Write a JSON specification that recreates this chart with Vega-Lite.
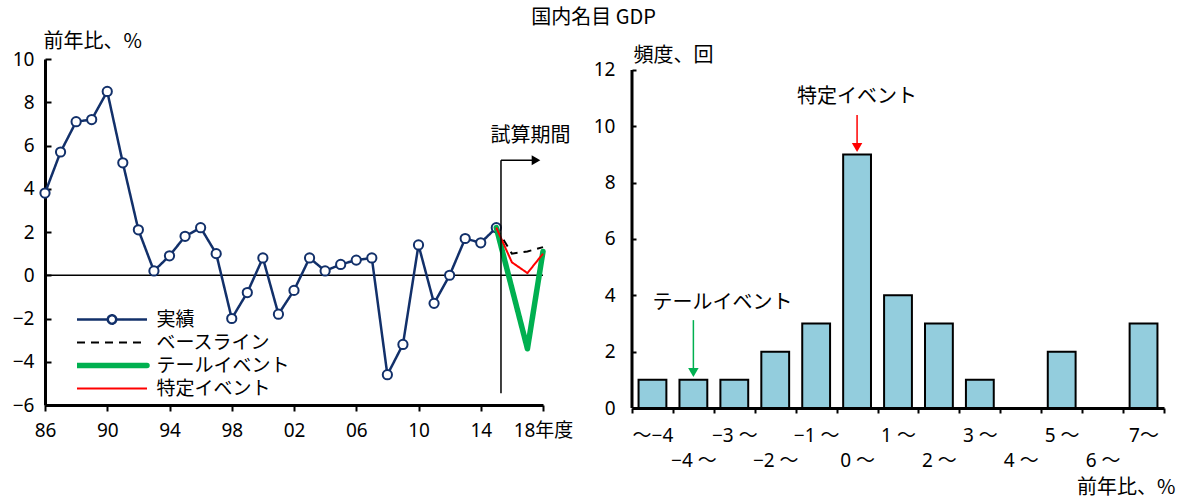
{
  "$schema": "https://vega.github.io/schema/vega-lite/v6.json",
  "background": "white",
  "padding": {"left": 12, "top": 8, "right": 5, "bottom": 2},
  "title": {"text": "国内名目 GDP", "font": "Noto Sans CJK JP", "fontSize": 20, "fontWeight": "normal", "color": "black", "anchor": "middle", "offset": 3},
  "bounds": "flush",
  "spacing": 89,
  "config": {
    "view": {"stroke": null},
    "font": "Noto Sans CJK JP",
    "axis": {
      "grid": false,
      "domainColor": "black",
      "domainWidth": 3,
      "tickColor": "black",
      "tickWidth": 2,
      "labelFont": "Noto Sans, Noto Sans CJK JP",
      "labelFontSize": 19,
      "labelColor": "black",
      "titleFont": "Noto Sans CJK JP",
      "titleFontSize": 20,
      "titleFontWeight": "normal",
      "titleColor": "black"
    },
    "legend": {
      "orient": "none",
      "legendX": 32,
      "legendY": 251,
      "title": null,
      "padding": 0,
      "symbolSize": 100,
      "symbolOffset": 25.5,
      "labelOffset": 35,
      "clipHeight": 19,
      "rowPadding": 3,
      "labelFont": "Noto Sans CJK JP",
      "labelFontSize": 19,
      "labelColor": "black"
    },
    "text": {"font": "Noto Sans CJK JP", "fontSize": 20, "color": "black"}
  },
  "datasets": {
    "gdp": [
      {"series": "実績", "year": 1986, "value": 3.8},
      {"series": "実績", "year": 1987, "value": 5.7},
      {"series": "実績", "year": 1988, "value": 7.1},
      {"series": "実績", "year": 1989, "value": 7.2},
      {"series": "実績", "year": 1990, "value": 8.5},
      {"series": "実績", "year": 1991, "value": 5.2},
      {"series": "実績", "year": 1992, "value": 2.1},
      {"series": "実績", "year": 1993, "value": 0.2},
      {"series": "実績", "year": 1994, "value": 0.9},
      {"series": "実績", "year": 1995, "value": 1.8},
      {"series": "実績", "year": 1996, "value": 2.2},
      {"series": "実績", "year": 1997, "value": 1.0},
      {"series": "実績", "year": 1998, "value": -2.0},
      {"series": "実績", "year": 1999, "value": -0.8},
      {"series": "実績", "year": 2000, "value": 0.8},
      {"series": "実績", "year": 2001, "value": -1.8},
      {"series": "実績", "year": 2002, "value": -0.7},
      {"series": "実績", "year": 2003, "value": 0.8},
      {"series": "実績", "year": 2004, "value": 0.2},
      {"series": "実績", "year": 2005, "value": 0.5},
      {"series": "実績", "year": 2006, "value": 0.7},
      {"series": "実績", "year": 2007, "value": 0.8},
      {"series": "実績", "year": 2008, "value": -4.6},
      {"series": "実績", "year": 2009, "value": -3.2},
      {"series": "実績", "year": 2010, "value": 1.4},
      {"series": "実績", "year": 2011, "value": -1.3},
      {"series": "実績", "year": 2012, "value": 0.0},
      {"series": "実績", "year": 2013, "value": 1.7},
      {"series": "実績", "year": 2014, "value": 1.5},
      {"series": "実績", "year": 2015, "value": 2.2},
      {"series": "ベースライン", "year": 2015, "value": 2.2},
      {"series": "ベースライン", "year": 2016, "value": 1.0},
      {"series": "ベースライン", "year": 2017, "value": 1.1},
      {"series": "ベースライン", "year": 2018, "value": 1.3},
      {"series": "テールイベント", "year": 2015, "value": 2.2},
      {"series": "テールイベント", "year": 2016, "value": -0.6},
      {"series": "テールイベント", "year": 2017, "value": -3.4},
      {"series": "テールイベント", "year": 2018, "value": 1.1},
      {"series": "特定イベント", "year": 2015, "value": 2.2},
      {"series": "特定イベント", "year": 2016, "value": 0.6},
      {"series": "特定イベント", "year": 2017, "value": 0.1},
      {"series": "特定イベント", "year": 2018, "value": 1.0}
    ],
    "hist": [
      {"bin": "～−4", "count": 1},
      {"bin": "−4 ～", "count": 1},
      {"bin": "−3 ～", "count": 1},
      {"bin": "−2 ～", "count": 2},
      {"bin": "−1 ～", "count": 3},
      {"bin": "0 ～", "count": 9},
      {"bin": "1 ～", "count": 4},
      {"bin": "2 ～", "count": 3},
      {"bin": "3 ～", "count": 1},
      {"bin": "4 ～", "count": 0},
      {"bin": "5 ～", "count": 2},
      {"bin": "6 ～", "count": 0},
      {"bin": "7～", "count": 3}
    ]
  },
  "hconcat": [
    {
      "width": 498,
      "height": 346,
      "layer": [
        {
          "data": {"values": [{}]},
          "mark": {"type": "rule", "color": "black", "strokeWidth": 1.5},
          "encoding": {"y": {"datum": 0, "type": "quantitative"}}
        },
        {
          "data": {"name": "gdp"},
          "transform": [{"filter": "datum.series === '実績'"}],
          "mark": {"type": "line", "strokeWidth": 2.5, "strokeJoin": "round"},
          "encoding": {
            "x": {
              "field": "year", "type": "quantitative",
              "scale": {"domain": [1986, 2018], "nice": false, "zero": false},
              "axis": {
                "title": null,
                "values": [1986, 1990, 1994, 1998, 2002, 2006, 2010, 2014, 2018],
                "labelExpr": "datum.value === 2018 ? '18年度' : substring(toString(datum.value), 2)",
                "tickSize": 6,
                "labelPadding": 10,
                "labelFlush": false,
                "labelOverlap": false,
                "encode": {
                  "labels": {
                    "update": {
                      "align": {"signal": "datum.value === 2018 ? 'left' : 'center'"},
                      "dx": {"signal": "datum.value === 2018 ? -11 : 0"}
                    }
                  }
                }
              }
            },
            "y": {
              "field": "value", "type": "quantitative",
              "scale": {"domain": [-6, 10], "nice": false},
              "axis": {
                "title": "前年比、%",
                "titleAngle": 0,
                "titleAlign": "left",
                "titleBaseline": "bottom",
                "titleX": -2,
                "titleY": -8,
                "values": [-6, -4, -2, 0, 2, 4, 6, 8, 10],
                "tickSize": -6,
                "labelPadding": 17
              }
            },
            "color": {
              "field": "series", "type": "nominal",
              "scale": {"domain": ["実績", "ベースライン", "テールイベント", "特定イベント"], "range": ["#12306A", "#000000", "#00B050", "#FF0000"]},
              "legend": {
                "encode": {"symbols": {"update": {
                  "shape": {"signal": "datum.value === '実績' ? 'M-7,0H-0.84M0.84,0H7M-0.84,0A0.84,0.84,0,1,1,0.84,0A0.84,0.84,0,1,1,-0.84,0' : 'M-7,0H7'"},
                  "fill": {"value": "white"},
                  "strokeWidth": {"signal": "datum.value === 'テールイベント' ? 5.5 : datum.value === '実績' ? 2.5 : 2"},
                  "strokeCap": {"signal": "datum.value === 'テールイベント' ? 'round' : 'butt'"}
                }}}
              }
            },
            "strokeDash": {
              "field": "series", "type": "nominal",
              "scale": {"domain": ["実績", "ベースライン", "テールイベント", "特定イベント"], "range": [[1, 0], [8, 6], [1, 0], [1, 0]]},
              "legend": {
                "encode": {"symbols": {"update": {
                  "shape": {"signal": "datum.value === '実績' ? 'M-7,0H-0.84M0.84,0H7M-0.84,0A0.84,0.84,0,1,1,0.84,0A0.84,0.84,0,1,1,-0.84,0' : 'M-7,0H7'"},
                  "fill": {"value": "white"},
                  "strokeWidth": {"signal": "datum.value === 'テールイベント' ? 5.5 : datum.value === '実績' ? 2.5 : 2"},
                  "strokeCap": {"signal": "datum.value === 'テールイベント' ? 'round' : 'butt'"}
                }}}
              }
            }
          }
        },
        {
          "data": {"name": "gdp"},
          "transform": [{"filter": "datum.series === '実績'"}],
          "mark": {"type": "point", "shape": "circle", "filled": true, "fill": "white", "stroke": "#12306A", "strokeWidth": 2, "size": 85, "opacity": 1},
          "encoding": {
            "x": {"field": "year", "type": "quantitative"},
            "y": {"field": "value", "type": "quantitative"}
          }
        },
        {
          "data": {"name": "gdp"},
          "transform": [{"filter": "datum.series === 'ベースライン'"}],
          "mark": {"type": "line", "strokeWidth": 2},
          "encoding": {
            "x": {"field": "year", "type": "quantitative"},
            "y": {"field": "value", "type": "quantitative"},
            "color": {"field": "series", "type": "nominal"},
            "strokeDash": {"field": "series", "type": "nominal"}
          }
        },
        {
          "data": {"name": "gdp"},
          "transform": [{"filter": "datum.series === 'テールイベント'"}],
          "mark": {"type": "line", "strokeWidth": 5.5, "strokeJoin": "round", "strokeCap": "round"},
          "encoding": {
            "x": {"field": "year", "type": "quantitative"},
            "y": {"field": "value", "type": "quantitative"},
            "color": {"field": "series", "type": "nominal"},
            "strokeDash": {"field": "series", "type": "nominal"}
          }
        },
        {
          "data": {"name": "gdp"},
          "transform": [{"filter": "datum.series === '特定イベント'"}],
          "mark": {"type": "line", "strokeWidth": 2, "strokeJoin": "round"},
          "encoding": {
            "x": {"field": "year", "type": "quantitative"},
            "y": {"field": "value", "type": "quantitative"},
            "color": {"field": "series", "type": "nominal"},
            "strokeDash": {"field": "series", "type": "nominal"}
          }
        },
        {
          "data": {"values": [{}]},
          "mark": {"type": "rule", "color": "black", "strokeWidth": 1.5},
          "encoding": {
            "x": {"datum": 2015.3, "type": "quantitative"},
            "y": {"datum": -5.46, "type": "quantitative"},
            "y2": {"datum": 5.32}
          }
        },
        {
          "data": {"values": [{}]},
          "mark": {"type": "rule", "color": "black", "strokeWidth": 1.5},
          "encoding": {
            "x": {"datum": 2015.3, "type": "quantitative"},
            "x2": {"datum": 2017.5},
            "y": {"datum": 5.32, "type": "quantitative"}
          }
        },
        {
          "data": {"values": [{}]},
          "mark": {"type": "point", "shape": "triangle-right", "filled": true, "color": "black", "size": 100, "opacity": 1},
          "encoding": {
            "x": {"datum": 2017.55, "type": "quantitative"},
            "y": {"datum": 5.32, "type": "quantitative"}
          }
        },
        {
          "data": {"values": [{}]},
          "mark": {"type": "text", "text": "試算期間", "align": "center", "baseline": "middle"},
          "encoding": {
            "x": {"datum": 2017.2, "type": "quantitative"},
            "y": {"datum": 6.43, "type": "quantitative"}
          }
        }
      ]
    },
    {
      "width": 532,
      "height": 349,
      "layer": [
        {
          "data": {"name": "hist"},
          "mark": {"type": "bar", "fill": "#93CDDD", "stroke": "black", "strokeWidth": 2, "width": {"band": 0.68}},
          "encoding": {
            "x": {
              "field": "bin", "type": "nominal",
              "scale": {"domain": ["～−4", "−4 ～", "−3 ～", "−2 ～", "−1 ～", "0 ～", "1 ～", "2 ～", "3 ～", "4 ～", "5 ～", "6 ～", "7～"], "paddingInner": 0, "paddingOuter": 0},
              "axis": {
                "title": "前年比、%",
                "titleAngle": 0,
                "titleAlign": "right",
                "titleBaseline": "bottom",
                "titleX": 543,
                "titleY": 89,
                "tickBand": "extent",
                "tickSize": 5,
                "labelAngle": 0,
                "labelPadding": 13,
                "labelLineHeight": 25,
                "labelOverlap": false,
                "labelBound": false,
                "labelExpr": "indexof(['−4 ～', '−2 ～', '0 ～', '2 ～', '4 ～', '6 ～'], datum.value) >= 0 ? ['', datum.value] : datum.value"
              }
            },
            "y": {
              "field": "count", "type": "quantitative",
              "scale": {"domain": [0, 12.39], "nice": false},
              "axis": {
                "title": "頻度、回",
                "titleAngle": 0,
                "titleAlign": "left",
                "titleBaseline": "bottom",
                "titleX": 1,
                "titleY": 6,
                "values": [0, 2, 4, 6, 8, 10, 12],
                "domain": false,
                "tickSize": -4,
                "labelPadding": 21
              }
            }
          }
        },
        {
          "data": {"values": [{}]},
          "mark": {"type": "rule", "color": "black", "strokeWidth": 3},
          "encoding": {
            "x": {"datum": "～−4", "type": "nominal", "bandPosition": 0},
            "y": {"datum": 0, "type": "quantitative"},
            "y2": {"datum": 12}
          }
        },
        {
          "data": {"values": [{}]},
          "mark": {"type": "rule", "color": "#FF0000", "strokeWidth": 1.5},
          "encoding": {
            "x": {"datum": "0 ～", "type": "nominal"},
            "y": {"datum": 10.4, "type": "quantitative"},
            "y2": {"datum": 9.3}
          }
        },
        {
          "data": {"values": [{}]},
          "mark": {"type": "point", "shape": "triangle-down", "filled": true, "color": "#FF0000", "size": 110, "opacity": 1},
          "encoding": {
            "x": {"datum": "0 ～", "type": "nominal"},
            "y": {"datum": 9.25, "type": "quantitative"}
          }
        },
        {
          "data": {"values": [{}]},
          "mark": {"type": "rule", "color": "#00B050", "strokeWidth": 1.5},
          "encoding": {
            "x": {"datum": "−4 ～", "type": "nominal"},
            "y": {"datum": 3.12, "type": "quantitative"},
            "y2": {"datum": 1.4}
          }
        },
        {
          "data": {"values": [{}]},
          "mark": {"type": "point", "shape": "triangle-down", "filled": true, "color": "#00B050", "size": 110, "opacity": 1},
          "encoding": {
            "x": {"datum": "−4 ～", "type": "nominal"},
            "y": {"datum": 1.26, "type": "quantitative"}
          }
        },
        {
          "data": {"values": [{}]},
          "mark": {"type": "text", "text": "特定イベント", "align": "center", "baseline": "middle"},
          "encoding": {
            "x": {"datum": "0 ～", "type": "nominal"},
            "y": {"datum": 11.04, "type": "quantitative"}
          }
        },
        {
          "data": {"values": [{}]},
          "mark": {"type": "text", "text": "テールイベント", "align": "left", "baseline": "middle"},
          "encoding": {
            "x": {"datum": "～−4", "type": "nominal"},
            "y": {"datum": 3.73, "type": "quantitative"}
          }
        }
      ]
    }
  ]
}
